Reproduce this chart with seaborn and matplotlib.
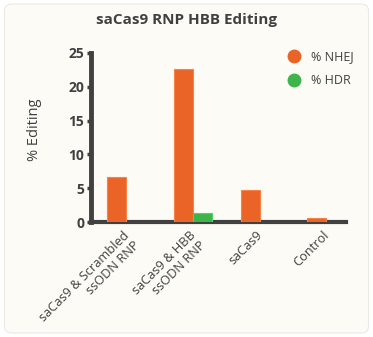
import matplotlib
matplotlib.use("Agg")
import matplotlib.pyplot as plt
import matplotlib.transforms as mtransforms
import seaborn as sns
import pandas as pd
from matplotlib.patches import FancyBboxPatch
from matplotlib.lines import Line2D

categories = ["saCas9 & Scrambled\nssODN RNP", "saCas9 & HBB\nssODN RNP", "saCas9", "Control"]
nhej = [6.6, 22.6, 4.7, 0.55]
hdr = [0.0, 1.4, 0.0, 0.0]
series = ["% NHEJ", "% HDR"]
yticks = [0, 5, 10, 15, 20, 25]

rows = []
for c, a, b in zip(categories, nhej, hdr):
    rows.append({"cat": c, "series": series[0], "val": a})
    rows.append({"cat": c, "series": series[1], "val": b})
df = pd.DataFrame(rows)

sns.set_style("white")
plt.rcParams['font.family'] = ['Open Sans', 'DejaVu Sans']

orange = "#EA6427"
green = "#3DB54A"
bg = "#FDFBF6"
dark = "#404040"

fig = plt.figure(figsize=(3.73, 3.37), dpi=100, facecolor="white")
card = FancyBboxPatch((0.012, 0.012), 0.976, 0.976, boxstyle="round,pad=0,rounding_size=0.02",
                      transform=fig.transFigure, facecolor=bg, edgecolor="#ECE9E4", lw=0.8, zorder=-10)
fig.patches.append(card)

ax = fig.add_axes([0.244, 0.341, 0.684, 0.502])
ax.set_facecolor("none")
sns.barplot(data=df, x="cat", y="val", hue="series", palette=[orange, green],
            width=0.57, ax=ax, legend=False, saturation=1)
for p in ax.patches:
    if p.get_height() <= 0:
        p.set_visible(False)
    else:
        fc = p.get_facecolor()
        p.set_edgecolor((min(fc[0] + 0.06, 1), min(fc[1] + 0.12, 1), min(fc[2] + 0.12, 1), 1))
        p.set_linewidth(0.8)
        p.set_zorder(3)

ax.set_xlim(-0.53, 3.3)
ax.set_ylim(0, 25)
ax.set_yticks(yticks)
ax.set_yticklabels([str(t) for t in yticks], fontsize=10, fontweight="bold", color=dark)
ax.tick_params(axis="y", length=3, width=2.5, color=dark, pad=2, left=True)
ax.tick_params(axis="x", length=0, pad=4)
ax.set_xticks(range(len(categories)))
ax.set_xticklabels(categories, rotation=45, ha="right", rotation_mode="anchor",
                   fontsize=9.2, color=dark, multialignment="right")
off = mtransforms.ScaledTranslation(-4 / 100, -1 / 100, fig.dpi_scale_trans)
for lbl in ax.get_xticklabels():
    lbl.set_transform(lbl.get_transform() + off)
ax.set_xlabel("")
ax.set_ylabel("")
fig.text(35 / 373, 1 - 130 / 337, "% Editing", rotation=90, ha="center", va="center",
         fontsize=10.5, color=dark)
for s in ["top", "right"]:
    ax.spines[s].set_visible(False)
ax.spines["left"].set_linewidth(3.5)
ax.spines["left"].set_color(dark)
ax.spines["bottom"].set_linewidth(3)
ax.spines["bottom"].set_color(dark)

fig.text(0.5, 1 - 20 / 337, "saCas9 RNP HBB Editing", ha="center", va="center",
         fontsize=11, fontweight="bold", color=dark)

handles = [Line2D([], [], marker="o", ls="", color=orange, markersize=9, label=series[0]),
           Line2D([], [], marker="o", ls="", color=green, markersize=9, label=series[1])]
fig.legend(handles=handles, loc="upper left", bbox_to_anchor=(0.74, 0.865), frameon=False,
           fontsize=9, labelcolor=dark, handletextpad=0.4, labelspacing=0.85, borderaxespad=0)

fig.savefig("out.png", dpi=100, facecolor="white")
